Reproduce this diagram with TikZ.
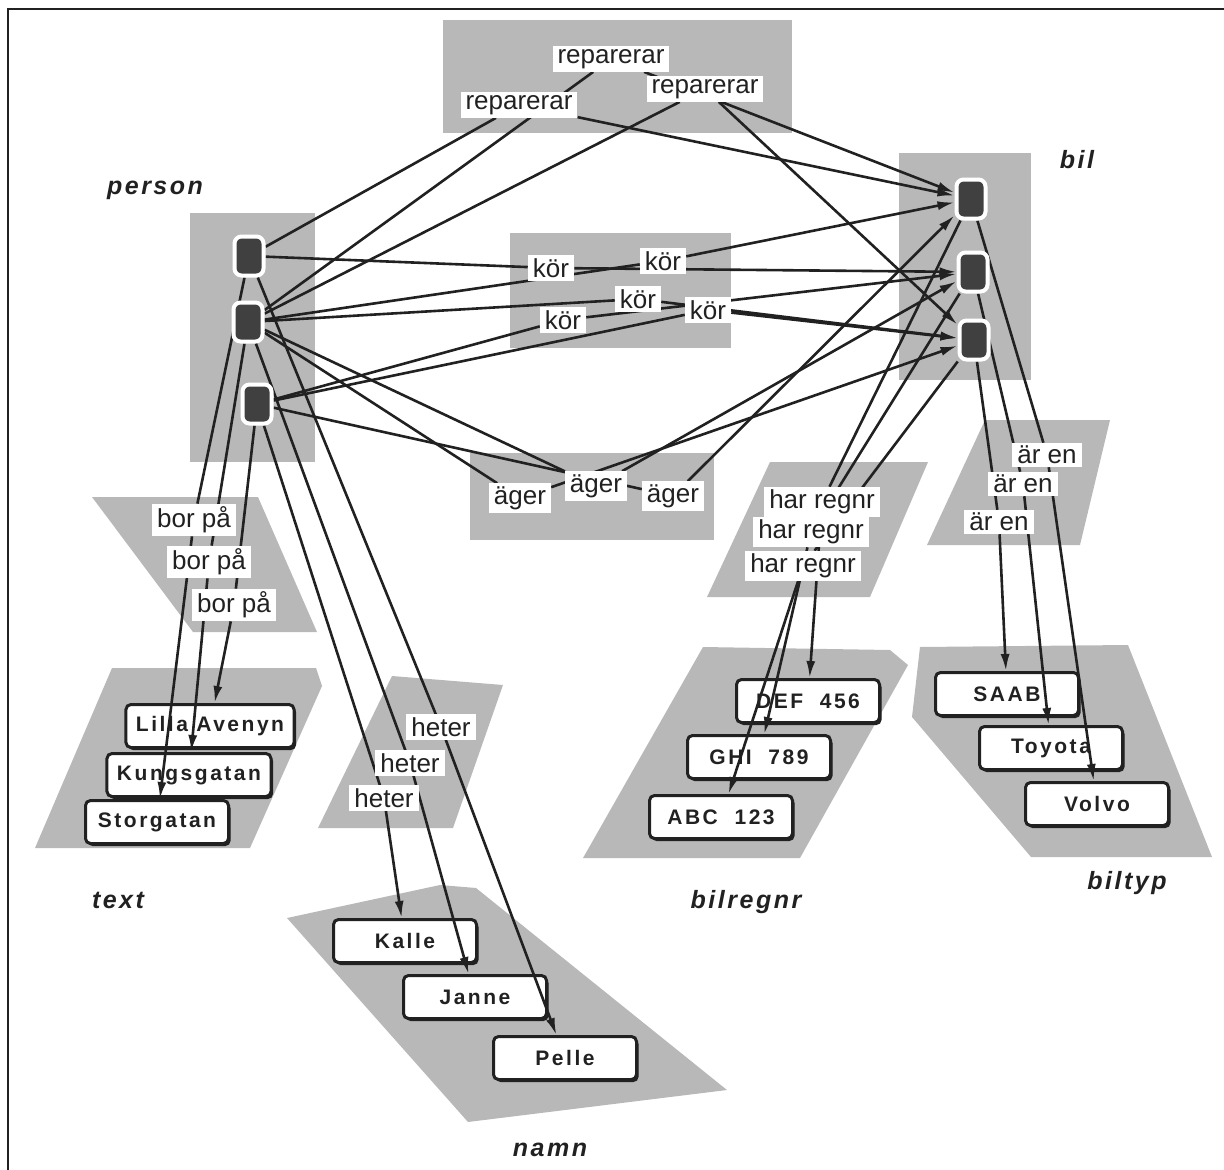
\documentclass[tikz,border=0pt]{standalone}
\usepackage{fontspec}
\setmainfont{Liberation Sans}
\newfontfamily\relfont{Liberation Sans}
\newfontfamily\valfont{Liberation Sans}[LetterSpace=12.0]
\newfontfamily\clsfont{Liberation Sans}[LetterSpace=10.0]
\usetikzlibrary{arrows.meta,shadows}
\definecolor{stipple}{gray}{0.72}
\definecolor{ink}{gray}{0.13}
\definecolor{entfill}{gray}{0.25}
\pgfdeclarelayer{back}
\pgfdeclarelayer{lines}
\pgfsetlayers{back,lines,main}

\begin{document}
\begin{tikzpicture}[x=1pt,y=-1pt,
  region/.style={fill=stipple},
  entity/.style={fill=entfill, draw=white, line width=4pt, rounded corners=7pt,
    minimum width=29pt, minimum height=39pt, inner sep=0pt},
  value/.style={draw=ink, fill=white, line width=3pt, rounded corners=5pt,
    minimum width=143pt, minimum height=43pt, inner xsep=10pt,
    font=\valfont\bfseries\fontsize{21}{23}\selectfont, text=ink,
    drop shadow={shadow xshift=2pt, shadow yshift=-2.5pt, fill=ink, opacity=1}},
  rel/.style={fill=white, inner xsep=5pt, inner ysep=3pt,
    font=\relfont\fontsize{26}{28}\selectfont, text=ink},
  cls/.style={font=\clsfont\bfseries\itshape\fontsize{25}{28}\selectfont, text=ink},
  link/.style={draw=ink, line width=2.6pt},
  arrow/.style={link, -{Latex[length=17pt,width=9pt]}},
]
\useasboundingbox (0,0) rectangle (1224,1170);

% frame (top and left edges)
\draw[ink, line width=2.2pt] (8,1170) -- (8,9) -- (1224,9);

\begin{pgfonlayer}{back}
  % stippled class areas
  \fill[region] (443,20) rectangle (792,133);
  \fill[region] (190,213) rectangle (315,462);
  \fill[region] (899,153) rectangle (1031,380);
  \fill[region] (510,233) rectangle (731,348);
  \fill[region] (470,453) rectangle (714,540);
  \fill[region] (92,497) -- (258,497) -- (317,632) -- (193,632) -- cycle;
  \fill[region] (112,668) -- (316,668) -- (322,686) -- (250,848) -- (35,848) -- cycle;
  \fill[region] (392,676) -- (503,685) -- (453,828) -- (318,828) -- cycle;
  \fill[region] (287,918) -- (440,885) -- (476,888) -- (727,1090) -- (468,1122) -- cycle;
  \fill[region] (770,462) -- (928,462) -- (870,597) -- (707,597) -- cycle;
  \fill[region] (985,420) -- (1110,420) -- (1080,545) -- (927,545) -- cycle;
  \fill[region] (703,647) -- (890,650) -- (908,665) -- (800,858) -- (583,858) -- cycle;
  \fill[region] (920,647) -- (1128,645) -- (1212,857) -- (1031,857) -- (912,717) -- cycle;

  % value boxes
  \node[value] (lilla) at (210,726) {Lilla Avenyn};
  \node[value] (kungs) at (189,775) {Kungsgatan};
  \node[value] (stor)  at (157,822) {Storgatan};
  \node[value] (def)   at (808,701) {DEF~~456};
  \node[value] (ghi)   at (759,757) {GHI~~789};
  \node[value] (abc)   at (721,817) {ABC~~123};
  \node[value] (saab)  at (1007,694) {SAAB};
  \node[value] (toyota) at (1051,748) {Toyota};
  \node[value] (volvo) at (1097,804) {Volvo};
  \node[value] (kalle) at (405,941) {Kalle};
  \node[value] (janne) at (475,997) {Janne};
  \node[value] (pelle) at (565,1058) {Pelle};
\end{pgfonlayer}

% class names
\node[cls] (cperson) at (155,190) {person};
\node[cls] (cbil) at (1077,160) {bil};
\node[cls] (ctext) at (118,900) {text};
\node[cls] (cnamn) at (550,1150) {namn};
\node[cls] (cregnr) at (746,902) {bilregnr};
\node[cls] (ctyp) at (1127,883) {biltyp};

% entity instances
\node[entity] (P1) at (249,256) {};
\node[entity] (P2) at (248,322) {};
\node[entity] (P3) at (257,404) {};
\node[entity] (B1) at (971,199) {};
\node[entity] (B2) at (973,272) {};
\node[entity] (B3) at (974,340) {};

% relation labels
\node[rel] (R1) at (611,59) {reparerar};
\node[rel] (R2) at (519,105) {reparerar};
\node[rel] (R3) at (705,89) {reparerar};
\node[rel] (K1) at (551,268) {kör};
\node[rel] (K2) at (663,261) {kör};
\node[rel] (K3) at (638,299) {kör};
\node[rel] (K4) at (708,310) {kör};
\node[rel] (K5) at (563,320) {kör};
\node[rel] (A1) at (520,498) {äger};
\node[rel] (A2) at (596,486) {äger};
\node[rel] (A3) at (673,496) {äger};
\node[rel] (BP1) at (194,520) {bor på};
\node[rel] (BP2) at (209,562) {bor på};
\node[rel] (BP3) at (234,605) {bor på};
\node[rel] (H1) at (441,727) {heter};
\node[rel] (H2) at (410,763) {heter};
\node[rel] (H3) at (384,798) {heter};
\node[rel] (HR1) at (822,502) {har regnr};
\node[rel] (HR2) at (811,532) {har regnr};
\node[rel] (HR3) at (803,566) {har regnr};
\node[rel] (E1) at (1047,455) {är en};
\node[rel] (E2) at (1023,484) {är en};
\node[rel] (E3) at (999,522) {är en};

\begin{pgfonlayer}{lines}
  % reparerar
  \draw[link] (P1) -- (R2);  \draw[arrow] (R2) -- (B1);
  \draw[link] (P2) -- (R1);  \draw[arrow] (R1) -- (B1);
  \draw[link] (P2) -- (R3);  \draw[arrow] (R3) -- (B3);
  % kör
  \draw[link] (P1) -- (K1);  \draw[arrow] (K1) -- (B2);
  \draw[link] (P2) -- (K2);  \draw[arrow] (K2) -- (B1);
  \draw[link] (P2) -- (K3);  \draw[arrow] (K3) -- (B3);
  \draw[link] (P3) -- (K5);  \draw[arrow] (K5) -- (B2);
  \draw[link] (P3) -- (K4);  \draw[arrow] (K4) -- (B3);
  % äger
  \draw[link] (P2) -- (A1);  \draw[arrow] (A1) -- (B3);
  \draw[link] (P2) -- (A2);  \draw[arrow] (A2) -- (B2);
  \draw[link] (P3) -- (A3);  \draw[arrow] (A3) -- (B1);
  % bor på
  \draw[link] (P1) -- (BP1); \draw[arrow] (BP1) -- (stor);
  \draw[link] (P2) -- (BP2); \draw[arrow] (BP2) -- (kungs);
  \draw[link] (P3) -- (BP3); \draw[arrow] (BP3) -- (lilla);
  % heter
  \draw[link] (P1) -- (H1);  \draw[arrow] (H1) -- (pelle);
  \draw[link] (P2) -- (H2);  \draw[arrow] (H2) -- (janne);
  \draw[link] (P3) -- (H3);  \draw[arrow] (H3) -- (kalle);
  % har regnr
  \draw[link] (B1) -- (HR1); \draw[arrow] (HR1) -- (def);
  \draw[link] (B2) -- (HR2); \draw[arrow] (HR2) -- (ghi);
  \draw[link] (B3) -- (HR3); \draw[arrow] (HR3) -- (abc);
  % är en
  \draw[link] (B1) -- (E1);  \draw[arrow] (E1) -- (volvo);
  \draw[link] (B2) -- (E2);  \draw[arrow] (E2) -- (toyota);
  \draw[link] (B3) -- (E3);  \draw[arrow] (E3) -- (saab);
\end{pgfonlayer}
\end{tikzpicture}
\end{document}
